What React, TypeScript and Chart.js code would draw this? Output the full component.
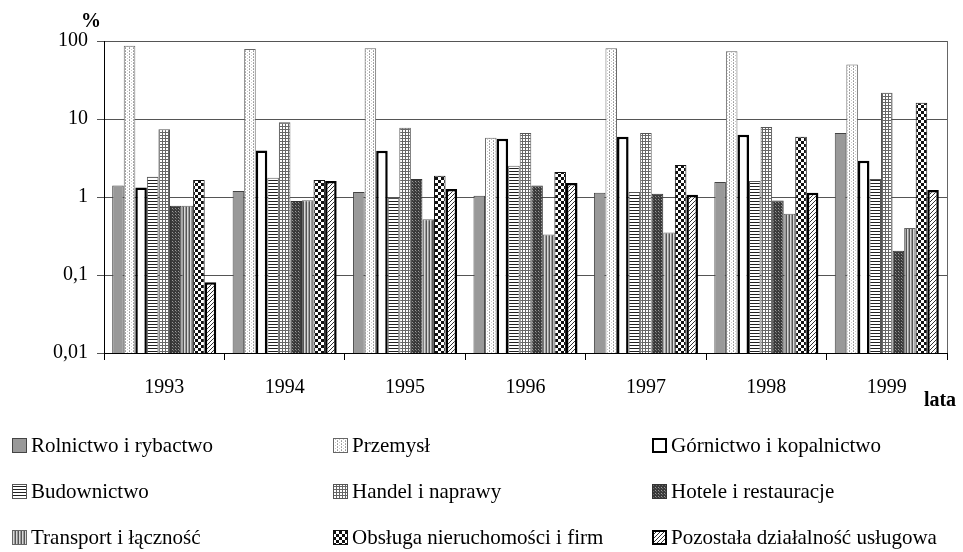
import React, { useEffect, useRef } from "react";
import { Chart, registerables } from "chart.js";

Chart.register(...registerables);

const years = ["1993", "1994", "1995", "1996", "1997", "1998", "1999"];
const yTicks = [0.01, 0.1, 1, 10, 100];

const seriesNames = [
  "Rolnictwo i rybactwo",
  "Przemysł",
  "Górnictwo i kopalnictwo",
  "Budownictwo",
  "Handel i naprawy",
  "Hotele i restauracje",
  "Transport i łączność",
  "Obsługa nieruchomości i firm",
  "Pozostała działalność usługowa",
];

const rolnictwo = [1.4, 1.19, 1.16, 1.04, 1.13, 1.56, 6.6];
const przemysl = [87, 79, 81, 5.76, 81, 74, 49.8];
const gornictwo = [1.32, 3.96, 3.93, 5.6, 5.9, 6.3, 2.92];
const budownictwo = [1.82, 1.77, 0.99, 2.52, 1.16, 1.6, 1.7];
const handel = [7.4, 9.1, 7.7, 6.6, 6.6, 7.9, 21.7];
const hotele = [0.77, 0.89, 1.7, 1.4, 1.1, 0.9, 0.205];
const transport = [0.77, 0.91, 0.52, 0.33, 0.35, 0.61, 0.4];
const obsluga = [1.65, 1.65, 1.87, 2.09, 2.57, 5.9, 16.2];
const pozostala = [0.081, 1.6, 1.27, 1.51, 1.07, 1.13, 1.23];

const seriesValues = [
  rolnictwo,
  przemysl,
  gornictwo,
  budownictwo,
  handel,
  hotele,
  transport,
  obsluga,
  pozostala,
];

const FONT = "'Liberation Serif', 'Times New Roman', serif";

function makePattern(
  w: number,
  h: number,
  bg: string,
  pixels: Array<[number, number, string]>
): CanvasPattern | string {
  const c = document.createElement("canvas");
  c.width = w;
  c.height = h;
  const ctx = c.getContext("2d");
  if (!ctx) return bg;
  ctx.fillStyle = bg;
  ctx.fillRect(0, 0, w, h);
  for (const [x, y, col] of pixels) {
    ctx.fillStyle = col;
    ctx.fillRect(x, y, 1, 1);
  }
  return ctx.createPattern(c, "repeat") || bg;
}

function buildStyles() {
  const przem = makePattern(4, 3, "#ffffff", [
    [1, 0, "#9a9a9a"],
    [1, 2, "#b0b0b0"],
    [3, 1, "#c8c8c8"],
  ]);
  const bud = makePattern(3, 3, "#ffffff", [
    [0, 0, "#222"],
    [1, 0, "#222"],
    [2, 0, "#222"],
  ]);
  const hand = makePattern(3, 3, "#ffffff", [
    [0, 0, "#666"],
    [1, 0, "#666"],
    [2, 0, "#666"],
    [0, 1, "#666"],
    [0, 2, "#666"],
  ]);
  const hot = makePattern(3, 3, "#3a3a3a", [
    [1, 1, "#9a9a9a"],
    [2, 2, "#6a6a6a"],
  ]);
  const trans = makePattern(3, 1, "#d8d8d8", [
    [0, 0, "#555"],
    [2, 0, "#999"],
  ]);
  const chkPx: Array<[number, number, string]> = [];
  for (let y = 0; y < 6; y++)
    for (let x = 0; x < 6; x++)
      if ((Math.floor(x / 3) + Math.floor(y / 3)) % 2 === 0) chkPx.push([x, y, "#111"]);
  const chk = makePattern(6, 6, "#ffffff", chkPx);
  const diag = makePattern(4, 4, "#ffffff", [
    [0, 3, "#333"],
    [1, 2, "#333"],
    [2, 1, "#333"],
    [3, 0, "#333"],
  ]);
  return [
    { bg: "#999999", border: "#444", bw: 1 },
    { bg: przem, border: "#666", bw: 1 },
    { bg: "#ffffff", border: "#000", bw: 2.5 },
    { bg: bud, border: "#555", bw: 1 },
    { bg: hand, border: "#555", bw: 1 },
    { bg: hot, border: "#333", bw: 1 },
    { bg: trans, border: "#666", bw: 1 },
    { bg: chk, border: "#111", bw: 1 },
    { bg: diag, border: "#000", bw: 2.5 },
  ];
}

export default function App() {
  const ref = useRef<HTMLCanvasElement | null>(null);

  useEffect(() => {
    const canvas = ref.current;
    if (!canvas) return;
    const styles = buildStyles();

    const datasets = seriesNames.map((name, i) => ({
      label: name,
      data: seriesValues[i],
      backgroundColor: styles[i].bg as any,
      borderColor: styles[i].border,
      borderWidth: styles[i].bw,
      categoryPercentage: 0.864,
      barPercentage: 1.0,
    }));

    const extras = {
      id: "extras",
      afterDraw(chart: any) {
        const ctx = chart.ctx as CanvasRenderingContext2D;
        const a = chart.chartArea;
        ctx.save();
        // right border of the plot
        ctx.strokeStyle = "#666";
        ctx.lineWidth = 1;
        ctx.beginPath();
        ctx.moveTo(a.right + 0.5, a.top);
        ctx.lineTo(a.right + 0.5, a.bottom);
        ctx.stroke();
        // axis titles
        ctx.fillStyle = "#000";
        ctx.font = "bold 20px " + FONT;
        ctx.textAlign = "center";
        ctx.textBaseline = "middle";
        ctx.fillText("%", 91, 22);
        ctx.fillText("lata", 940, 401);
        // legend grid
        const colX = [12, 333, 652];
        const rowY = [445, 491, 537];
        ctx.font = "21px " + FONT;
        ctx.textAlign = "left";
        chart.data.datasets.forEach((ds: any, i: number) => {
          const col = i % 3;
          const row = Math.floor(i / 3);
          const bx = colX[col];
          const by = rowY[row] - 7;
          const size = 15;
          ctx.fillStyle = ds.backgroundColor;
          ctx.fillRect(bx, by, size, size);
          const bw = ds.borderWidth > 1 ? 2 : 1;
          ctx.strokeStyle = ds.borderColor;
          ctx.lineWidth = bw;
          const o = bw / 2;
          ctx.strokeRect(bx + o, by + o, size - bw, size - bw);
          ctx.fillStyle = "#000";
          ctx.fillText(ds.label, bx + size + 4, rowY[row] + 1);
        });
        ctx.restore();
      },
    };

    const chart = new Chart(canvas, {
      type: "bar",
      data: { labels: years, datasets },
      plugins: [extras],
      options: {
        animation: false,
        responsive: false,
        maintainAspectRatio: false,
        layout: { padding: { top: 41, right: 16, left: 0, bottom: 0 } },
        plugins: { legend: { display: false }, tooltip: { enabled: false } },
        scales: {
          x: {
            offset: true,
            grid: {
              offset: true,
              drawOnChartArea: false,
              drawTicks: true,
              tickLength: 7,
              color: "#000",
            },
            border: { display: true, color: "#000", width: 1 },
            ticks: {
              color: "#000",
              font: { family: FONT, size: 20 },
              padding: 16,
              maxRotation: 0,
            },
            afterFit(scale: any) {
              scale.height = 199;
            },
          },
          y: {
            type: "logarithmic",
            min: 0.01,
            max: 100,
            grid: { color: "#555", tickLength: 7, drawTicks: true },
            border: { display: true, color: "#000", width: 1 },
            ticks: {
              color: "#000",
              font: { family: FONT, size: 20 },
              padding: 9,
              callback: (v: any) => String(v).replace(".", ","),
            },
            afterBuildTicks(scale: any) {
              scale.ticks = yTicks.map((v) => ({ value: v }));
            },
            afterFit(scale: any) {
              scale.width = 104;
            },
          },
        },
      } as any,
    });

    return () => chart.destroy();
  }, []);

  return (
    <div style={{ position: "fixed", left: 0, top: 0, width: 963, height: 552, background: "#fff" }}>
      <canvas ref={ref} width={963} height={552} style={{ width: 963, height: 552, display: "block" }} />
    </div>
  );
}
